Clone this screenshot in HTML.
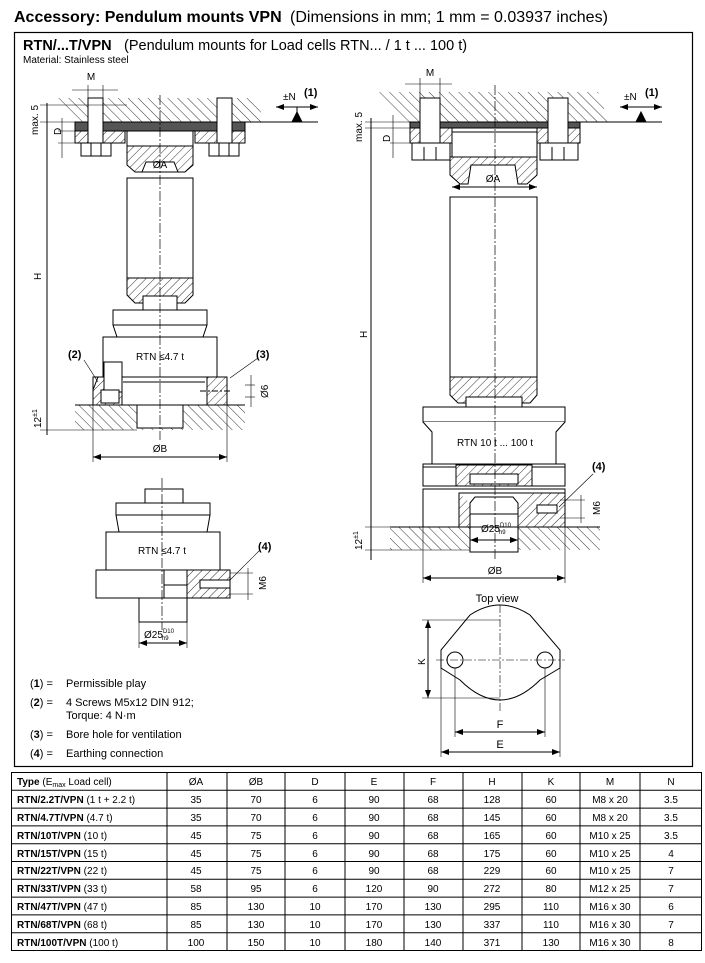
<!DOCTYPE html>
<html><head><meta charset="utf-8"><style>
html,body{margin:0;padding:0;background:#fff;width:705px;height:963px;overflow:hidden}
svg{display:block}
text{font-family:"Liberation Sans",Arial,sans-serif;fill:#000}
</style></head><body>
<svg width="705" height="963" viewBox="0 0 705 963" xmlns="http://www.w3.org/2000/svg">
<defs>
<pattern id="hb" patternUnits="userSpaceOnUse" width="7" height="7" patternTransform="rotate(-45)">
<rect width="7" height="7" fill="#fff"/><line x1="0" y1="0" x2="0" y2="7" stroke="#000" stroke-width="0.8"/></pattern>
<pattern id="hf" patternUnits="userSpaceOnUse" width="6" height="6" patternTransform="rotate(45)">
<rect width="6" height="6" fill="#fff"/><line x1="0" y1="0" x2="0" y2="6" stroke="#000" stroke-width="0.8"/></pattern>
<marker id="ar" markerWidth="8" markerHeight="6" refX="8" refY="3" orient="auto" markerUnits="userSpaceOnUse"><path d="M0,0 L8,3 L0,6Z" fill="#000"/></marker>
<marker id="al" markerWidth="8" markerHeight="6" refX="0" refY="3" orient="auto" markerUnits="userSpaceOnUse"><path d="M8,0 L0,3 L8,6Z" fill="#000"/></marker>
</defs>

<!-- Title -->
<text x="14" y="22" font-size="16" font-weight="bold">Accessory: Pendulum mounts VPN</text>
<text x="290" y="22" font-size="16">(Dimensions  in mm; 1 mm = 0.03937 inches)</text>
<rect x="14.5" y="32.5" width="678" height="734" fill="none" stroke="#000" stroke-width="1.2"/>
<text x="23" y="50" font-size="14.5" font-weight="bold">RTN/...T/VPN</text>
<text x="124" y="50" font-size="14.5">(Pendulum mounts for Load cells RTN... / 1 t ... 100 t)</text>
<text x="23" y="63" font-size="10">Material: Stainless steel</text>

<g stroke="#000" stroke-width="1" fill="none">
<!-- ===== LEFT TOP DRAWING ===== -->
<path d="M57,98 H255 L265,122 H75 Z" fill="url(#hb)" stroke="none"/>
<line x1="75" y1="122" x2="318" y2="122"/>
<rect x="75" y="122" width="170" height="9" fill="#555"/>
<rect x="75" y="131" width="50" height="12" fill="url(#hf)"/>
<rect x="195" y="131" width="50" height="12" fill="url(#hf)"/>
<rect x="88" y="98" width="15" height="47" fill="#fff"/>
<rect x="217" y="98" width="15" height="47" fill="#fff"/>
<rect x="81" y="143" width="30" height="13" fill="#fff"/>
<rect x="209" y="143" width="30" height="13" fill="#fff"/>
<line x1="91" y1="143" x2="91" y2="156"/><line x1="101" y1="143" x2="101" y2="156"/>
<line x1="219" y1="143" x2="219" y2="156"/><line x1="229" y1="143" x2="229" y2="156"/>
<rect x="127" y="131" width="66" height="15" fill="#fff"/>
<path d="M127,146 H193 V165 L185,172 H174 V162 H146 V172 H135 L127,165Z" fill="url(#hf)"/>
<path d="M146,162 H174 L178,172 H142Z" fill="#fff"/>
<rect x="127" y="178" width="66" height="100" fill="#fff"/>
<path d="M127,278 H193 V295 L185,303 H177 V296 H143 V303 H135 L127,295Z" fill="url(#hf)"/>
<rect x="143" y="296" width="34" height="14" fill="#fff"/>
<path d="M113,310 H207 V325 L203,337 H117 L113,325Z" fill="#fff"/>
<line x1="113" y1="325" x2="207" y2="325"/>
<rect x="103" y="337" width="114" height="40" fill="#fff"/>
<path d="M93,377 H227 V405 H93Z" fill="#fff"/>
<path d="M93,390 L98,377 H122 V405 H93Z" fill="url(#hf)"/>
<path d="M207,377 H227 V405 H207Z" fill="url(#hf)"/>
<rect x="104" y="362" width="18" height="30" fill="#fff"/>
<rect x="101" y="390" width="18" height="13" fill="#fff"/>
<line x1="123" y1="382" x2="205" y2="382"/>
<line x1="200" y1="391" x2="230" y2="391" stroke-dasharray="6,2,2,2"/>
<path d="M75,405 H245 V430 H75Z" fill="url(#hb)" stroke="none"/>
<line x1="75" y1="405" x2="245" y2="405"/>
<rect x="137" y="405" width="46" height="23" fill="#fff"/>
<text x="160" y="360" font-size="10" text-anchor="middle" stroke="none">RTN  ≤4.7 t</text>
<line x1="160" y1="95" x2="160" y2="440" stroke-dasharray="10,2,2,2" stroke-width="0.7"/>
<!-- dims -->
<line x1="47" y1="103" x2="47" y2="435"/>
<line x1="40" y1="105" x2="127" y2="105" stroke-width="0.6"/>
<line x1="40" y1="122" x2="75" y2="122" stroke-width="0.6"/>
<line x1="58" y1="131" x2="75" y2="131" stroke-width="0.6"/>
<line x1="58" y1="143" x2="81" y2="143" stroke-width="0.6"/>
<line x1="62" y1="118" x2="62" y2="158" stroke-width="0.6"/>
<line x1="40" y1="430" x2="137" y2="430" stroke-width="0.6"/>
<line x1="93" y1="405" x2="93" y2="462" stroke-width="0.6"/>
<line x1="227" y1="405" x2="227" y2="462" stroke-width="0.6"/>
<line x1="93" y1="457" x2="227" y2="457" marker-start="url(#al)" marker-end="url(#ar)"/>
<line x1="72" y1="90" x2="118" y2="90" stroke-width="0.6"/>
<line x1="88" y1="85" x2="88" y2="98" stroke-width="0.6"/>
<line x1="103" y1="85" x2="103" y2="98" stroke-width="0.6"/>
<line x1="276" y1="107" x2="318" y2="107" marker-start="url(#al)" marker-end="url(#ar)"/>
<path d="M292,122 L297,112 L302,122Z" fill="#000"/>
<line x1="297" y1="107" x2="297" y2="112"/>
<line x1="230" y1="378" x2="258" y2="358" stroke-width="0.6"/>
<line x1="98" y1="382" x2="84" y2="360" stroke-width="0.6"/>
<line x1="245" y1="385" x2="255" y2="385" stroke-width="0.6"/>
<line x1="245" y1="397" x2="255" y2="397" stroke-width="0.6"/>
<line x1="251" y1="375" x2="251" y2="407" stroke-width="0.6"/>

<!-- ===== RIGHT DRAWING ===== -->
<path d="M379,92 H598 L609,122 H409 Z" fill="url(#hb)" stroke="none"/>
<line x1="409" y1="122" x2="662" y2="122"/>
<rect x="410" y="122" width="170" height="6" fill="#555"/>
<rect x="410" y="128" width="42" height="15" fill="url(#hf)"/>
<rect x="537" y="128" width="43" height="15" fill="url(#hf)"/>
<rect x="420" y="98" width="20" height="47" fill="#fff"/>
<rect x="548" y="98" width="20" height="47" fill="#fff"/>
<rect x="412" y="143" width="38" height="17" fill="#fff"/>
<rect x="540" y="143" width="38" height="17" fill="#fff"/>
<line x1="424" y1="147" x2="424" y2="160"/><line x1="436" y1="147" x2="436" y2="160"/>
<line x1="552" y1="147" x2="552" y2="160"/><line x1="564" y1="147" x2="564" y2="160"/>
<rect x="452" y="132" width="85" height="25" fill="#fff"/>
<path d="M450,157 H537 V175 L527,184 H518 L515,165 H471 L468,184 H460 L450,175Z" fill="url(#hf)"/>
<rect x="450" y="197" width="87" height="180" fill="#fff"/>
<path d="M450,377 H537 V395 L530,403 H521 V397 H467 V403 H458 L450,395Z" fill="url(#hf)"/>
<rect x="466" y="397" width="56" height="10" fill="#fff"/>
<rect x="423" y="407" width="142" height="15" fill="#fff"/>
<path d="M423,422 L432,432 V464 H556 V432 L565,422" fill="#fff"/>
<rect x="423" y="464" width="142" height="22" fill="#fff"/>
<line x1="423" y1="467" x2="565" y2="467"/>
<path d="M456,465 H532 V486 H456Z" fill="url(#hf)"/>
<rect x="470" y="474" width="48" height="10" fill="#fff"/>
<rect x="423" y="489" width="142" height="38" fill="#fff"/>
<path d="M459,493 H565 V527 H459Z" fill="url(#hf)"/>
<path d="M459,493 H530 L518,503 V527 H470 V503" fill="#fff" stroke="none"/>
<line x1="459" y1="493" x2="530" y2="493"/><line x1="459" y1="493" x2="459" y2="527"/>
<path d="M470,503 L475,497 H513 L518,503 V552 H470Z" fill="#fff"/>
<line x1="470" y1="514" x2="518" y2="514"/>
<rect x="537" y="505" width="20" height="8" fill="#fff"/>
<path d="M390,527 H600 V550 H390Z" fill="url(#hb)" stroke="none"/>
<line x1="390" y1="527" x2="600" y2="527"/>
<rect x="470" y="527" width="48" height="25" fill="#fff"/>
<text x="495" y="446" font-size="10" text-anchor="middle" stroke="none">RTN 10 t ... 100 t</text>
<line x1="495" y1="85" x2="495" y2="560" stroke-dasharray="10,2,2,2" stroke-width="0.7"/>
<!-- dims right -->
<line x1="371" y1="118" x2="371" y2="560"/>
<line x1="365" y1="122" x2="409" y2="122" stroke-width="0.6"/>
<line x1="365" y1="128" x2="410" y2="128" stroke-width="0.6"/>
<line x1="390" y1="143" x2="412" y2="143" stroke-width="0.6"/>
<line x1="393" y1="115" x2="393" y2="158" stroke-width="0.6"/>
<line x1="365" y1="527" x2="390" y2="527" stroke-width="0.6"/>
<line x1="365" y1="550" x2="470" y2="550" stroke-width="0.6"/>
<line x1="423" y1="527" x2="423" y2="583" stroke-width="0.6"/>
<line x1="565" y1="527" x2="565" y2="583" stroke-width="0.6"/>
<line x1="423" y1="578" x2="565" y2="578" marker-start="url(#al)" marker-end="url(#ar)"/>
<line x1="470" y1="540" x2="518" y2="540" marker-start="url(#al)" marker-end="url(#ar)"/>
<line x1="452" y1="187" x2="537" y2="187" marker-start="url(#al)" marker-end="url(#ar)"/>
<line x1="405" y1="84" x2="452" y2="84" stroke-width="0.6"/>
<line x1="420" y1="78" x2="420" y2="98" stroke-width="0.6"/>
<line x1="440" y1="78" x2="440" y2="98" stroke-width="0.6"/>
<line x1="620" y1="107" x2="662" y2="107" marker-start="url(#al)" marker-end="url(#ar)"/>
<path d="M636,122 L641,112 L646,122Z" fill="#000"/>
<line x1="559" y1="507" x2="593" y2="474" stroke-width="0.6"/>
<line x1="560" y1="500" x2="585" y2="500" stroke-width="0.6"/>
<line x1="560" y1="518" x2="585" y2="518" stroke-width="0.6"/>
<line x1="581" y1="495" x2="581" y2="523" stroke-width="0.6"/>

<!-- ===== TOP VIEW ===== -->
<path d="M470,615 Q500,595 530,615 L560,650 V668 L540,680 Q500,720 460,680 L441,668 V650 Z" fill="#fff"/>
<circle cx="455" cy="660" r="8" fill="#fff"/>
<circle cx="545" cy="660" r="8" fill="#fff"/>
<line x1="500" y1="605" x2="500" y2="712" stroke-dasharray="8,2,2,2" stroke-width="0.6"/>
<line x1="436" y1="660" x2="565" y2="660" stroke-dasharray="8,2,2,2" stroke-width="0.6"/>
<line x1="455" y1="668" x2="455" y2="737" stroke-width="0.6"/>
<line x1="545" y1="668" x2="545" y2="737" stroke-width="0.6"/>
<line x1="441" y1="668" x2="441" y2="757" stroke-width="0.6"/>
<line x1="560" y1="668" x2="560" y2="757" stroke-width="0.6"/>
<line x1="455" y1="732" x2="545" y2="732" marker-start="url(#al)" marker-end="url(#ar)"/>
<line x1="441" y1="752" x2="560" y2="752" marker-start="url(#al)" marker-end="url(#ar)"/>
<line x1="422" y1="620" x2="500" y2="620" stroke-width="0.6"/>
<line x1="422" y1="698" x2="500" y2="698" stroke-width="0.6"/>
<line x1="428" y1="620" x2="428" y2="698" marker-start="url(#al)" marker-end="url(#ar)"/>

<!-- ===== LOWER LEFT ===== -->
<rect x="145" y="489" width="38" height="14" fill="#fff"/>
<path d="M116,503 H210 V515 L207,532 H119 L116,515Z" fill="#fff"/>
<line x1="116" y1="515" x2="210" y2="515"/>
<rect x="106" y="532" width="114" height="38" fill="#fff"/>
<rect x="96" y="570" width="134" height="28" fill="#fff"/>
<rect x="187" y="570" width="43" height="28" fill="url(#hf)"/>
<rect x="200" y="580" width="30" height="8" fill="#fff"/>
<rect x="164" y="570" width="23" height="28" fill="#fff"/>
<line x1="164" y1="585" x2="187" y2="585"/>
<rect x="139" y="598" width="48" height="24" fill="#fff"/>
<line x1="162" y1="478" x2="162" y2="630" stroke-dasharray="10,2,2,2" stroke-width="0.7"/>
<line x1="139" y1="622" x2="139" y2="648" stroke-width="0.6"/>
<line x1="187" y1="622" x2="187" y2="648" stroke-width="0.6"/>
<line x1="139" y1="643" x2="187" y2="643" marker-start="url(#al)" marker-end="url(#ar)"/>
<text x="162" y="554" font-size="10" text-anchor="middle" stroke="none">RTN  ≤4.7 t</text>
<line x1="230" y1="580" x2="260" y2="550" stroke-width="0.6"/>
<line x1="230" y1="573" x2="253" y2="573" stroke-width="0.6"/>
<line x1="230" y1="594" x2="253" y2="594" stroke-width="0.6"/>
<line x1="248" y1="568" x2="248" y2="600" stroke-width="0.6"/>
</g>

<!-- labels -->
<g font-size="10">
<text x="91" y="80" text-anchor="middle">M</text>
<text x="430" y="76" text-anchor="middle">M</text>
<text x="283" y="100">±N</text><text x="304" y="96" font-weight="bold" font-size="11">(1)</text>
<text x="624" y="100">±N</text><text x="645" y="96" font-weight="bold" font-size="11">(1)</text>
<text x="160" y="168" text-anchor="middle">ØA</text>
<text x="493" y="182" text-anchor="middle">ØA</text>
<text x="160" y="452" text-anchor="middle">ØB</text>
<text x="495" y="574" text-anchor="middle">ØB</text>
<text x="68" y="358" font-weight="bold" font-size="11">(2)</text>
<text x="256" y="358" font-weight="bold" font-size="11">(3)</text>
<text x="258" y="550" font-weight="bold" font-size="11">(4)</text>
<text x="592" y="470" font-weight="bold" font-size="11">(4)</text>
<text transform="translate(38,135) rotate(-90)">max. 5</text>
<text transform="translate(61,135) rotate(-90)">D</text>
<text transform="translate(41,280) rotate(-90)">H</text>
<text transform="translate(41,428) rotate(-90)">12<tspan font-size="7" dy="-4">±1</tspan></text>
<text transform="translate(268,398) rotate(-90)">Ø6</text>
<text transform="translate(362,142) rotate(-90)">max. 5</text>
<text transform="translate(390,142) rotate(-90)">D</text>
<text transform="translate(367,338) rotate(-90)">H</text>
<text transform="translate(362,550) rotate(-90)">12<tspan font-size="7" dy="-4">±1</tspan></text>
<text transform="translate(600,515) rotate(-90)">M6</text>
<text transform="translate(266,590) rotate(-90)">M6</text>
<text transform="translate(425,665) rotate(-90)">K</text>
<text x="496" y="532" text-anchor="middle">Ø25<tspan font-size="6" dy="-5">D10</tspan><tspan font-size="6" dx="-12" dy="7">h9</tspan></text>
<text x="159" y="638" text-anchor="middle">Ø25<tspan font-size="6" dy="-5">D10</tspan><tspan font-size="6" dx="-12" dy="7">h9</tspan></text>
<text x="497" y="602" text-anchor="middle" font-size="11">Top view</text>
<text x="500" y="728" text-anchor="middle" font-size="11">F</text>
<text x="500" y="748" text-anchor="middle" font-size="11">E</text>
</g>
<g font-size="11">
<text x="30" y="687">(<tspan font-weight="bold">1</tspan>)  =</text><text x="66" y="687">Permissible play</text>
<text x="30" y="706">(<tspan font-weight="bold">2</tspan>)  =</text><text x="66" y="706">4 Screws M5x12 DIN 912;</text>
<text x="66" y="719">Torque: 4 N·m</text>
<text x="30" y="738">(<tspan font-weight="bold">3</tspan>)  =</text><text x="66" y="738">Bore hole for ventilation</text>
<text x="30" y="757">(<tspan font-weight="bold">4</tspan>)  =</text><text x="66" y="757">Earthing connection</text>
</g>

<!-- TABLE -->
<g stroke="#000" stroke-width="1" fill="none">
<rect x="11.5" y="772.5" width="690" height="178"/>
<line x1="167" y1="772" x2="167" y2="950"/><line x1="227" y1="772" x2="227" y2="950"/>
<line x1="285" y1="772" x2="285" y2="950"/><line x1="345" y1="772" x2="345" y2="950"/>
<line x1="404" y1="772" x2="404" y2="950"/><line x1="463" y1="772" x2="463" y2="950"/>
<line x1="522" y1="772" x2="522" y2="950"/><line x1="580" y1="772" x2="580" y2="950"/>
<line x1="640" y1="772" x2="640" y2="950"/>
<line x1="11" y1="790.3" x2="702" y2="790.3"/><line x1="11" y1="808.1" x2="702" y2="808.1"/>
<line x1="11" y1="825.9" x2="702" y2="825.9"/><line x1="11" y1="843.7" x2="702" y2="843.7"/>
<line x1="11" y1="861.5" x2="702" y2="861.5"/><line x1="11" y1="879.3" x2="702" y2="879.3"/>
<line x1="11" y1="897.1" x2="702" y2="897.1"/><line x1="11" y1="914.9" x2="702" y2="914.9"/>
<line x1="11" y1="932.7" x2="702" y2="932.7"/>
</g>
<g font-size="10" text-anchor="middle">
<text x="17" y="785" text-anchor="start"><tspan font-weight="bold">Type</tspan>  (E<tspan font-size="7" dy="2">max</tspan><tspan dy="-2"> Load cell)</tspan></text>
<text x="196" y="785">ØA</text><text x="256" y="785">ØB</text><text x="315" y="785">D</text><text x="374" y="785">E</text><text x="433" y="785">F</text><text x="492" y="785">H</text><text x="551" y="785">K</text><text x="610" y="785">M</text><text x="671" y="785">N</text>
</g>
<g font-size="10" text-anchor="middle">
<text x="17" y="803" text-anchor="start"><tspan font-weight="bold">RTN/2.2T/VPN</tspan>  (1 t + 2.2 t)</text>
<text x="196" y="803">35</text><text x="256" y="803">70</text><text x="315" y="803">6</text><text x="374" y="803">90</text><text x="433" y="803">68</text><text x="492" y="803">128</text><text x="551" y="803">60</text><text x="610" y="803">M8 x 20</text><text x="671" y="803">3.5</text>
<text x="17" y="821" text-anchor="start"><tspan font-weight="bold">RTN/4.7T/VPN</tspan>  (4.7 t)</text>
<text x="196" y="821">35</text><text x="256" y="821">70</text><text x="315" y="821">6</text><text x="374" y="821">90</text><text x="433" y="821">68</text><text x="492" y="821">145</text><text x="551" y="821">60</text><text x="610" y="821">M8 x 20</text><text x="671" y="821">3.5</text>
<text x="17" y="839" text-anchor="start"><tspan font-weight="bold">RTN/10T/VPN</tspan>  (10 t)</text>
<text x="196" y="839">45</text><text x="256" y="839">75</text><text x="315" y="839">6</text><text x="374" y="839">90</text><text x="433" y="839">68</text><text x="492" y="839">165</text><text x="551" y="839">60</text><text x="610" y="839">M10 x 25</text><text x="671" y="839">3.5</text>
<text x="17" y="857" text-anchor="start"><tspan font-weight="bold">RTN/15T/VPN</tspan>  (15 t)</text>
<text x="196" y="857">45</text><text x="256" y="857">75</text><text x="315" y="857">6</text><text x="374" y="857">90</text><text x="433" y="857">68</text><text x="492" y="857">175</text><text x="551" y="857">60</text><text x="610" y="857">M10 x 25</text><text x="671" y="857">4</text>
<text x="17" y="874" text-anchor="start"><tspan font-weight="bold">RTN/22T/VPN</tspan>  (22 t)</text>
<text x="196" y="874">45</text><text x="256" y="874">75</text><text x="315" y="874">6</text><text x="374" y="874">90</text><text x="433" y="874">68</text><text x="492" y="874">229</text><text x="551" y="874">60</text><text x="610" y="874">M10 x 25</text><text x="671" y="874">7</text>
<text x="17" y="892" text-anchor="start"><tspan font-weight="bold">RTN/33T/VPN</tspan>  (33 t)</text>
<text x="196" y="892">58</text><text x="256" y="892">95</text><text x="315" y="892">6</text><text x="374" y="892">120</text><text x="433" y="892">90</text><text x="492" y="892">272</text><text x="551" y="892">80</text><text x="610" y="892">M12 x 25</text><text x="671" y="892">7</text>
<text x="17" y="910" text-anchor="start"><tspan font-weight="bold">RTN/47T/VPN</tspan>  (47 t)</text>
<text x="196" y="910">85</text><text x="256" y="910">130</text><text x="315" y="910">10</text><text x="374" y="910">170</text><text x="433" y="910">130</text><text x="492" y="910">295</text><text x="551" y="910">110</text><text x="610" y="910">M16 x 30</text><text x="671" y="910">6</text>
<text x="17" y="928" text-anchor="start"><tspan font-weight="bold">RTN/68T/VPN</tspan>  (68 t)</text>
<text x="196" y="928">85</text><text x="256" y="928">130</text><text x="315" y="928">10</text><text x="374" y="928">170</text><text x="433" y="928">130</text><text x="492" y="928">337</text><text x="551" y="928">110</text><text x="610" y="928">M16 x 30</text><text x="671" y="928">7</text>
<text x="17" y="946" text-anchor="start"><tspan font-weight="bold">RTN/100T/VPN</tspan>  (100 t)</text>
<text x="196" y="946">100</text><text x="256" y="946">150</text><text x="315" y="946">10</text><text x="374" y="946">180</text><text x="433" y="946">140</text><text x="492" y="946">371</text><text x="551" y="946">130</text><text x="610" y="946">M16 x 30</text><text x="671" y="946">8</text>
</g>
</svg>
</body></html>
